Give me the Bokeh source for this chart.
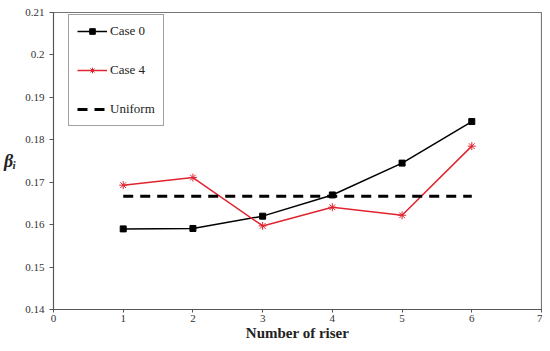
from bokeh.plotting import figure
from bokeh.models import Legend, LegendItem, FixedTicker, CustomJSTickFormatter, Range1d
from bokeh.embed import file_html
from bokeh.resources import INLINE

risers = [1, 2, 3, 4, 5, 6]
case0 = [0.1590, 0.1591, 0.1620, 0.1670, 0.1745, 0.1843]
case4 = [0.1693, 0.1711, 0.1597, 0.1641, 0.1622, 0.1785]
uniform_x = [1, 6]
uniform_y = [1/6, 1/6]
x_ticks = [0, 1, 2, 3, 4, 5, 6, 7]
y_ticks = [0.14, 0.15, 0.16, 0.17, 0.18, 0.19, 0.20, 0.21]

FONT = "Liberation Serif"

p = figure(width=542, height=343, output_backend="svg", toolbar_location=None,
           x_range=Range1d(0, 7), y_range=Range1d(0.14, 0.21),
           min_border_left=52, min_border_right=1, min_border_top=12, min_border_bottom=34)
p.grid.visible = False
p.outline_line_color = "#777777"
p.outline_line_width = 1.2

for ax in (p.xaxis[0], p.yaxis[0]):
    ax.axis_line_color = "#555555"
    ax.major_tick_line_color = "#555555"
    ax.minor_tick_line_color = None
    ax.major_tick_in = 0
    ax.major_tick_out = 4
    ax.major_label_text_font = FONT
    ax.major_label_text_font_size = "11px"
    ax.major_label_text_color = "#333333"

p.xaxis.ticker = FixedTicker(ticks=x_ticks)
p.yaxis.ticker = FixedTicker(ticks=y_ticks)
p.yaxis.formatter = CustomJSTickFormatter(code="return String(Math.round(tick*100)/100);")
p.xaxis.major_tick_out = 3
p.xaxis.major_label_standoff = 2
p.xaxis.axis_label = "Number of riser"
p.xaxis.axis_label_text_font = FONT
p.xaxis.axis_label_text_font_style = "bold"
p.xaxis.axis_label_text_font_size = "15px"
p.xaxis.axis_label_text_color = "#222222"
p.xaxis.axis_label_standoff = 0

p.yaxis.major_label_standoff = 5
p.yaxis.axis_label = "βᵢ"
p.yaxis.axis_label_orientation = "horizontal"
p.yaxis.axis_label_text_font = FONT
p.yaxis.axis_label_text_font_style = "bold italic"
p.yaxis.axis_label_text_font_size = "18px"
p.yaxis.axis_label_text_color = "#222222"
p.yaxis.axis_label_standoff = 6

l0 = p.line(risers, case0, line_color="black", line_width=1.5)
m0 = p.scatter(risers, case0, marker="square", size=6, fill_color="black", line_color="black")
l4 = p.line(risers, case4, line_color="#e02530", line_width=1.5)
m4 = p.scatter(risers, case4, marker="asterisk", size=8, line_color="#e02530", line_width=1)
lu = p.line(uniform_x, uniform_y, line_color="black", line_width=3, line_dash="10 7")

legend = Legend(items=[
    LegendItem(label="Case 0", renderers=[l0, m0]),
    LegendItem(label="Case 4", renderers=[l4, m4]),
    LegendItem(label="Uniform", renderers=[lu]),
], location=(15, 183))
legend.label_text_font = FONT
legend.label_text_font_size = "13px"
legend.label_text_color = "#222222"
legend.glyph_width = 30
legend.glyph_height = 14
legend.label_height = 14
legend.label_standoff = 3
legend.spacing = 23
legend.padding = 8
legend.margin = 0
legend.border_line_color = "#444444"
legend.border_line_width = 1.2
legend.background_fill_alpha = 1
p.add_layout(legend, "center")

open("out.html", "w").write(file_html(p, INLINE))
